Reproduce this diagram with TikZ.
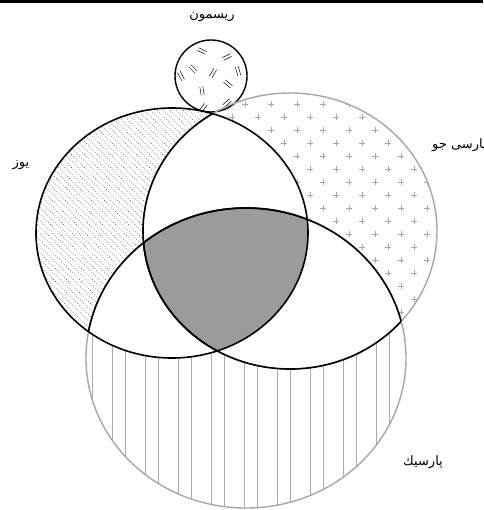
\documentclass[tikz,border=0pt]{standalone}
\usepackage{fontspec}
\newfontfamily\arabicfont[Script=Arabic]{DejaVu Sans}
\TeXXeTstate=1
\usetikzlibrary{calc}
\definecolor{VennGray}{HTML}{9B9B9B}
\definecolor{VennLine}{HTML}{A6A6A6}
\definecolor{VennMark}{HTML}{ABABAB}

\def\yuzset{(172,233) ellipse [x radius=136, y radius=125]}
\def\parsijoset{(290,231) ellipse [x radius=147, y radius=138]}
\def\parsikset{(246,358) ellipse [x radius=160, y radius=150]}
\def\rismonset{(211,76) circle [radius=36]}
\newcommand{\tally}[3]{%
  \draw[line width=0.5pt, shift={(#1,#2)}, rotate=#3] (-4.5,-1.5)--(4.5,-1.5) (-4.5,1.5)--(4.5,1.5);}

\begin{document}
\begin{tikzpicture}[x=1pt,y=-1pt,
  setname/.style={font=\arabicfont\fontsize{13}{15}\selectfont, inner sep=0pt},
  blackline/.style={line width=1.6pt},
  grayline/.style={VennLine, line width=1.4pt},
  plusmark/.style={VennLine, line width=0.6pt},
  stripe/.style={VennMark, line width=1pt},
  hatchline/.style={black!80, line width=0.55pt, dash pattern=on 0.6pt off 2pt}]
  \useasboundingbox (0,0) rectangle (483,510);
  \fill (0,0) rectangle (483,3);

  % patterns
  \begin{scope}
    \clip \parsijoset;
    \foreach \k in {0,...,22} {
      \pgfmathsetmacro\py{91+13*\k}
      \pgfmathsetmacro\ox{180+13*mod(\k,2)}
      \foreach \n in {0,...,11}
        \draw[plusmark] (\ox+26*\n-3,\py)--++(6,0) (\ox+26*\n,\py-3)--++(0,6);
    }
  \end{scope}
  \begin{scope}
    \clip \parsikset;
    \foreach \i in {0,...,9} {
      \draw[stripe] (92.7+33*\i,190)--++(0,330);
      \draw[stripe] (112.7+33*\i,190)--++(0,330);
    }
  \end{scope}
  \begin{scope}
    \clip \yuzset;
    \foreach \a in {-240,-233.5,...,294}
      \draw[hatchline] (\a,90)--++(280,280);
  \end{scope}

  % overlaps
  \begin{scope}
    \clip \yuzset;
    \fill[white] \parsijoset;
    \fill[white] \parsikset;
  \end{scope}
  \begin{scope}
    \clip \parsijoset;
    \fill[white] \parsikset;
  \end{scope}
  \begin{scope}
    \clip \yuzset;
    \clip \parsijoset;
    \fill[VennGray] \parsikset;
  \end{scope}

  % small circle
  \fill[white] \rismonset;
  \tally{202}{51}{-25}
  \tally{227}{57}{25}
  \tally{193}{69}{-45}
  \tally{213}{73}{60}
  \tally{238}{71}{-74}
  \tally{181}{76}{-63}
  \tally{202}{91}{-81}
  \tally{228}{84}{-40}
  \tally{227}{103}{41}
  \tally{203}{108}{53}
  \draw[line width=1.4pt] \rismonset;

  % outlines
  \draw[grayline] \parsijoset;
  \draw[grayline] \parsikset;
  \draw[blackline] \yuzset;
  \begin{scope}
    \clip \yuzset;
    \draw[blackline] \parsijoset;
    \draw[blackline] \parsikset;
  \end{scope}
  \begin{scope}
    \clip \parsikset;
    \draw[blackline] \parsijoset;
  \end{scope}
  \begin{scope}
    \clip \parsijoset;
    \draw[blackline] \parsikset;
  \end{scope}

  \node[setname] (rismon) at (212,17) {\beginR ریسمون\endR};
  \node[setname, anchor=west] (parsijo) at (432,145) {\beginR پارسی جو\endR};
  \node[setname] (yuz) at (21,165) {\beginR یوز\endR};
  \node[setname] (parsik) at (423,462) {\beginR پارسیك\endR};
\end{tikzpicture}
\end{document}
